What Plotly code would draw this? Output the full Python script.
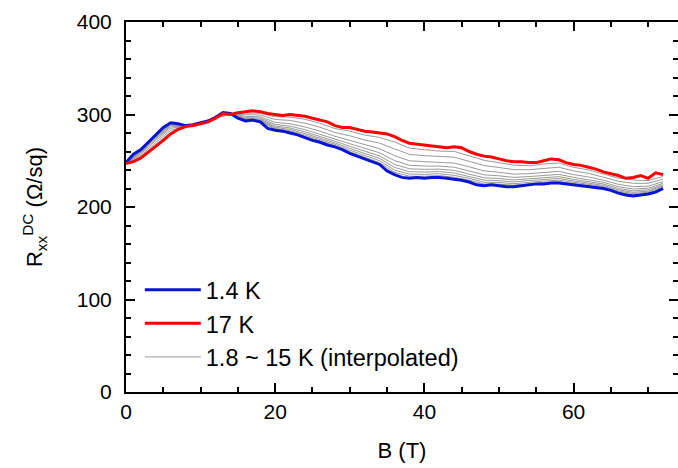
import plotly.graph_objects as go

# Magnetic field (T)
B_full = list(range(0, 73))
B_gray = list(range(0, 73, 2))

# 1.4 K
R_1p4K = [248, 257, 262, 270, 278, 286, 291, 290, 288, 289,
          291, 293, 297, 302, 301, 296, 293, 294, 292, 285,
          283, 282, 280, 278, 275, 272, 270, 267, 265, 262,
          258, 255, 252, 249, 246, 239, 235, 232, 231, 232,
          231, 232, 232, 231, 230, 229, 227, 224, 223, 224,
          223, 222, 222, 223, 224, 225, 225, 226, 226, 225,
          224, 223, 222, 221, 220, 218, 215, 213, 212, 213,
          214, 216, 220]

# 17 K
R_17K = [247, 249, 253, 259, 266, 272, 279, 284, 287, 288,
         290, 292, 296, 301, 300, 302, 303, 304, 303, 301,
         300, 299, 300, 299, 298, 296, 294, 292, 288, 286,
         286, 284, 282, 281, 280, 279, 276, 272, 269, 268,
         267, 266, 265, 264, 265, 264, 260, 257, 255, 254,
         252, 250, 249, 249, 248, 248, 250, 252, 251, 248,
         246, 245, 243, 241, 238, 236, 234, 231, 232, 234,
         231, 237, 235]

# 1.8 ~ 15 K (interpolated) curves, sampled every 2 T
gray_1 = [247.9, 261.5, 277.3, 290.3, 287.9, 290.9, 296.9, 300.9, 293.6, 292.7,
          284.0, 281.2, 276.4, 271.4, 266.4, 259.7, 253.8, 248.0, 237.5, 233.3,
          233.2, 234.0, 232.1, 229.0, 224.9, 224.7, 223.6, 225.4, 226.5, 227.5,
          225.3, 223.3, 221.1, 216.1, 213.2, 215.0, 220.9]
gray_2 = [247.9, 260.9, 276.6, 289.6, 287.9, 290.9, 296.9, 300.9, 294.2, 293.3,
          285.0, 282.4, 277.8, 272.9, 267.8, 261.4, 255.6, 250.1, 239.9, 235.6,
          235.3, 236.0, 234.2, 231.0, 226.8, 226.5, 225.2, 226.9, 228.0, 229.0,
          226.6, 224.5, 222.2, 217.3, 214.4, 216.0, 221.8]
gray_3 = [247.8, 260.3, 275.7, 288.7, 287.8, 290.8, 296.8, 300.8, 294.9, 294.1,
          286.2, 283.8, 279.4, 274.6, 269.4, 263.3, 257.7, 252.5, 242.8, 238.2,
          237.8, 238.3, 236.7, 233.3, 229.1, 228.5, 227.1, 228.6, 229.8, 230.8,
          228.2, 226.0, 223.4, 218.6, 215.8, 217.2, 222.9]
gray_4 = [247.7, 259.6, 274.8, 287.8, 287.7, 290.7, 296.7, 300.7, 295.7, 295.0,
          287.6, 285.4, 281.2, 276.5, 271.2, 265.6, 260.1, 255.2, 246.1, 241.3,
          240.7, 240.9, 239.5, 235.9, 231.6, 230.8, 229.3, 230.5, 231.8, 232.8,
          229.9, 227.7, 224.9, 220.1, 217.4, 218.6, 224.1]
gray_5 = [247.6, 258.7, 273.6, 286.6, 287.6, 290.6, 296.6, 300.6, 296.7, 296.1,
          289.3, 287.4, 283.5, 278.9, 273.5, 268.4, 263.1, 258.6, 250.2, 245.1,
          244.3, 244.2, 243.0, 239.2, 234.8, 233.7, 232.0, 232.9, 234.3, 235.3,
          232.1, 229.8, 226.7, 222.0, 219.4, 220.3, 225.6]
gray_6 = [247.5, 257.5, 272.0, 285.0, 287.5, 290.5, 296.5, 300.5, 298.0, 297.5,
          291.5, 290.0, 286.5, 282.0, 276.5, 272.0, 267.0, 263.0, 255.5, 250.0,
          249.0, 248.5, 247.5, 243.5, 239.0, 237.5, 235.5, 236.0, 237.5, 238.5,
          235.0, 232.5, 229.0, 224.5, 222.0, 222.5, 227.5]
gray_7 = [247.3, 255.9, 269.8, 282.8, 287.3, 290.3, 296.3, 300.3, 299.8, 299.5,
          294.6, 293.6, 290.6, 286.3, 280.6, 277.0, 272.4, 269.1, 262.9, 256.8,
          255.5, 254.4, 253.8, 249.4, 244.8, 242.7, 240.4, 240.3, 242.0, 243.0,
          239.0, 236.3, 232.2, 227.9, 225.6, 225.6, 230.2]
gray_8 = [247.1, 254.3, 267.7, 280.7, 287.1, 290.1, 296.1, 300.1, 301.6, 301.5,
          297.6, 297.2, 294.8, 290.6, 284.8, 282.1, 277.8, 275.2, 270.3, 263.7,
          262.0, 260.4, 260.1, 255.4, 250.5, 247.9, 245.2, 244.6, 246.5, 247.5,
          242.9, 240.1, 235.5, 231.3, 229.2, 228.6, 232.9]

gray_curves = [gray_1, gray_2, gray_3, gray_4, gray_5, gray_6, gray_7, gray_8]

FONT = "Liberation Sans, Arial, Helvetica, sans-serif"

fig = go.Figure()

for i, g in enumerate(gray_curves):
    fig.add_trace(go.Scatter(
        x=B_gray, y=g, mode="lines",
        line=dict(color="#9a9a9a", width=1),
        name="1.8 ~ 15 K (interpolated)",
        legendgroup="g", legendrank=3,
        showlegend=(i == 0),
    ))

fig.add_trace(go.Scatter(
    x=B_full, y=R_1p4K, mode="lines",
    line=dict(color="#0a14d2", width=3),
    name="1.4 K", legendgroup="b", legendrank=1,
))
fig.add_trace(go.Scatter(
    x=B_full, y=R_17K, mode="lines",
    line=dict(color="#ff0000", width=3),
    name="17 K", legendgroup="r", legendrank=2,
))

axis_common = dict(
    showline=True, linecolor="black", linewidth=2,
    mirror="allticks", ticks="inside", ticklen=9, tickwidth=1.5,
    tickcolor="black", showgrid=False, zeroline=False, automargin=False,
    tickfont=dict(family=FONT, size=21, color="black"),
)

fig.update_xaxes(
    range=[0, 74], autorange=False, tickvals=[0, 20, 40, 60],
    minor=dict(dtick=5, ticks="inside", ticklen=5, tickwidth=1.5, tickcolor="black"),
    title=dict(text="B (T)", font=dict(family=FONT, size=22, color="black"), standoff=20),
    **axis_common,
)
fig.update_yaxes(
    range=[0, 400], autorange=False, tickvals=[0, 100, 200, 300, 400],
    minor=dict(dtick=20, ticks="inside", ticklen=5, tickwidth=1.5, tickcolor="black"),
    ticklabelstandoff=8,
    title=dict(text="R<sub>xx</sub><sup>DC</sup> (Ω/sq)",
               font=dict(family=FONT, size=22, color="black"), standoff=28),
    **axis_common,
)

fig.update_layout(
    width=678, height=468, autosize=False,
    margin=dict(l=126, r=0, t=22, b=76, autoexpand=False),
    plot_bgcolor="white", paper_bgcolor="white",
    font=dict(family=FONT, size=22, color="black"),
    legend=dict(
        x=0.025, y=0.335, xanchor="left", yanchor="top",
        bgcolor="rgba(0,0,0,0)", traceorder="grouped", tracegroupgap=0,
        font=dict(family=FONT, size=23.5, color="black"),
        itemwidth=56,
    ),
)

fig.write_html("out.html", config={"responsive": False})
